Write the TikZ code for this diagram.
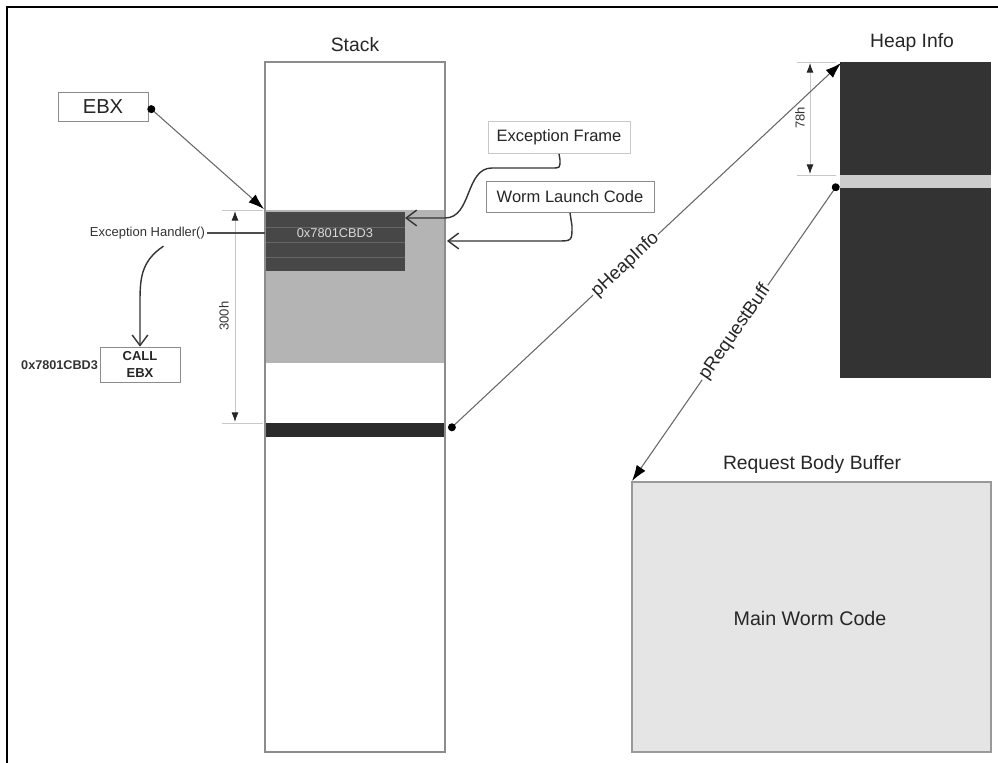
\documentclass[tikz,border=0pt]{standalone}
\usepackage{fontspec}
\setmainfont{Liberation Sans}
\usetikzlibrary{arrows.meta}

\definecolor{stackgrey}{HTML}{B4B4B4}
\definecolor{framedark}{HTML}{474747}
\definecolor{bardark}{HTML}{2B2B2B}
\definecolor{heapdark}{HTML}{333333}
\definecolor{stripgrey}{HTML}{CCCCCC}
\definecolor{bufgrey}{HTML}{E5E5E5}
\definecolor{edgegrey}{HTML}{8C8C8C}
\definecolor{dimgrey}{HTML}{C8C8C8}

\tikzset{
  titletext/.style={font=\fontsize{11}{13}\selectfont, text=black!85},
  labelbox/.style={draw=edgegrey, fill=white, inner sep=0pt, text=black!85},
  smalltext/.style={font=\fontsize{7.4}{8.5}\selectfont, text=black!80},
  ptrline/.style={draw=black!60, line width=0.6pt,
      {Circle[length=4.5pt,color=black]}-{Latex[length=9pt,width=6pt,color=black]}},
  callline/.style={draw=black!80, line width=0.8pt, -{Straight Barb[length=6pt,width=9pt]}},
  dimline/.style={draw=dimgrey, line width=0.5pt,
      {Latex[length=5.5pt,width=4pt,color=black!85]}-{Latex[length=5.5pt,width=4pt,color=black!85]}},
  extline/.style={draw=dimgrey, line width=0.5pt},
}

\begin{document}
\begin{tikzpicture}[x=0.02cm, y=-0.02cm] % 1 unit = 1 pixel of the page
    \useasboundingbox (0,0) rectangle (998,763);
    \def\px{0.02cm}

    % --- outer frame ---
    \draw[black, line width=1pt] (7,763) -- (7,7) -- (998,7);

    % --- stack ---
    \node[titletext] (stacklbl) at (355,45) {Stack};
    \fill[stackgrey] (265,210) rectangle (445,363);
    \fill[framedark] (265,212) rectangle (405,271);
    \foreach \yy in {227,242,257}
        \draw[black!60, line width=0.4pt] (265,\yy) -- (405,\yy);
    \node[font=\fontsize{7.3}{8.5}\selectfont, text=black!15] (framelbl) at (335,233) {0x7801CBD3};
    \fill[bardark] (265,423) rectangle (445,437);
    \draw[draw=edgegrey, line width=0.9pt] (265,62) rectangle (445,752);
    \coordinate (framecorner) at (264,209);
    \coordinate (handlerin) at (265,233);
    \coordinate (barend) at (449,430);

    % --- 300h dimension ---
    \draw[extline] (222,210) -- (263,210);
    \draw[extline] (222,423) -- (263,423);
    \draw[dimline] (235,211) -- (235,422);
    \node[smalltext, rotate=90] (dimstack) at (224,316) {300h};

    % --- EBX and the handler ---
    \node[labelbox, minimum width=90*\px, minimum height=29*\px,
          font=\fontsize{11.5}{13}\selectfont] (ebx) at (103,106.5) {EBX};
    \draw[ptrline] (ebx.east) -- (framecorner);

    \node[smalltext, anchor=east, inner sep=1pt] (handler) at (207,233) {Exception Handler()};
    \draw[black!70, line width=0.6pt] (handler.east) -- (handlerin);

    \node[labelbox, minimum width=80*\px, minimum height=35*\px, align=center,
          font=\bfseries\fontsize{7.4}{10}\selectfont] (callebx) at (140,364.5) {CALL\\EBX};
    \node[smalltext, font=\bfseries\fontsize{7.2}{8.5}\selectfont, anchor=east, inner sep=1pt]
          (calladdr) at (100,365) {0x7801CBD3};
    \draw[callline] ([xshift=16*\px, yshift=-5*\px]handler.south)
          .. controls (140,262) and (140,280) .. (140,305) -- (callebx.north);

    % --- exception frame / launch code ---
    \node[labelbox, draw=dimgrey, minimum width=142*\px, minimum height=32*\px,
          font=\fontsize{9.4}{11}\selectfont] (excframe) at (559,137.5) {Exception Frame};
    \node[labelbox, minimum width=168*\px, minimum height=31*\px,
          font=\fontsize{9.4}{11}\selectfont] (launch) at (570,197) {Worm Launch Code};
    \coordinate (framein) at (405,218);
    \coordinate (launchin) at (447,241);
    \draw[callline] (excframe.south) -- (560,160) .. controls (560,168) .. (552,168)
          -- (492,168) .. controls (465,168) and (472,218) .. (445,218) -- (framein);
    \draw[callline] (launch.south) -- (572,226) .. controls (572,241) .. (557,241)
          -- (launchin);

    % --- heap info ---
    \node[titletext] (heaplbl) at (912,43) {Heap Info};
    \fill[heapdark] (840,62) rectangle (991,378);
    \fill[stripgrey] (840,175) rectangle (991,188);
    \coordinate (heaptop) at (841,63);
    \coordinate (stripend) at (838,184);
    \draw[extline] (797,62) -- (836,62);
    \draw[extline] (797,175) -- (836,175);
    \draw[dimline] (810,63) -- (810,174);
    \node[smalltext, rotate=90] (dimheap) at (800,118) {78h};

    % --- request body buffer ---
    \node[titletext] (buflbl) at (812,465) {Request Body Buffer};
    \draw[fill=bufgrey, draw=black!40, line width=1pt] (632,482) rectangle (991,752);
    \node[font=\fontsize{11.2}{13}\selectfont, text=black!85] (mainworm) at (810,618) {Main Worm Code};
    \coordinate (buftop) at (632,481);

    % --- pointers ---
    \draw[ptrline] (barend) -- node[sloped, fill=white, inner sep=1pt, pos=0.45,
          font=\fontsize{10.5}{12}\selectfont, text=black!85] (heapptr) {pHeapInfo} (heaptop);
    \draw[ptrline] (stripend) -- node[sloped, fill=white, inner sep=1pt, pos=0.5,
          font=\fontsize{10.5}{12}\selectfont, text=black!85] (reqptr) {pRequestBuff} (buftop);

\end{tikzpicture}
\end{document}
